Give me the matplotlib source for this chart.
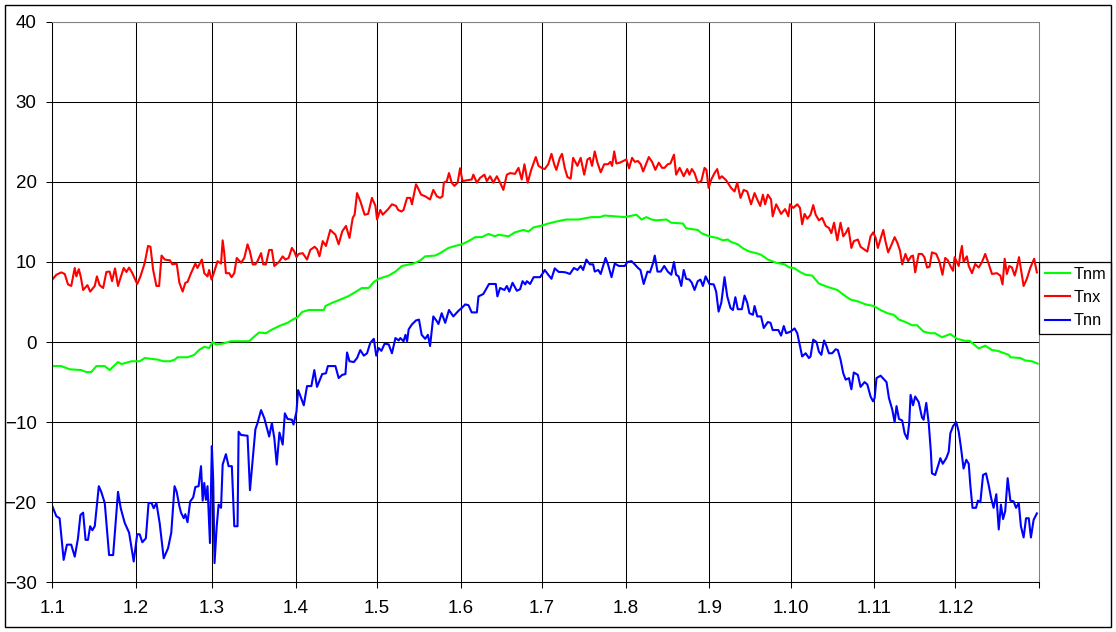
import matplotlib
matplotlib.use("Agg")
from matplotlib import pyplot as plt
from matplotlib.patches import Rectangle

plt.rcParams['font.family'] = ['Liberation Sans', 'DejaVu Sans']

# x positions are days since 1 January
tnx_day = [0, 1.5, 3.3, 4.6, 5.8, 7, 8.3, 8.9, 9.8, 10.5, 11.4, 13, 14, 15.7, 16.5, 17.5, 18.8, 20, 21.2, 22.1,
           23.2, 24.3, 25.2, 26.4, 27.4, 28.4, 29.6, 31.4, 32.6, 34.2, 35.4, 36.3, 37.3, 38.5, 39.5, 40.4, 41.6,
           43.5, 44.4, 46, 47, 48.2, 49.2, 50, 51.3, 52.9, 53.7, 55.3, 56.2, 57.4, 58, 58.9, 59.9, 61.1, 62.4,
           63, 63.6, 64.2, 65.4, 66.3, 67.3, 68.2, 69.8, 71, 72.2, 73.1, 74.1, 75.1, 75.9, 77.2, 78, 79, 80.2,
           81.2, 82.1, 83.7, 85.2, 86.2, 87.4, 88.6, 89.5, 90.3, 91.1, 92.6, 94.2, 95.4, 97, 97.9, 98.8, 100,
           101.2, 102.8, 104.7, 105.9, 107.2, 108.6, 109.9, 111.1, 111.8, 112.7, 113.9, 115.5, 116.8, 118.2,
           119.5, 120.1, 121.3, 122.2, 124.2, 125.6, 127.1, 127.9, 129.1, 129.9, 131.2, 132.4, 133, 134.5,
           135.2, 136.4, 137.9, 139.7, 140.9, 142.2, 143.4, 144.3, 144.8, 145.9, 146.7, 147.7, 148.7, 149.9,
           150.8, 151.7, 153.3, 155.1, 155.7, 157, 158.2, 159.8, 160.7, 161.9, 163.1, 164.4, 165.6, 166.8,
           168.1, 169.3, 171.1, 172.4, 173.6, 174.6, 175.8, 177.1, 178.8, 179.8, 181.2, 182.1, 183.4, 184.6,
           185.6, 186.4, 187.7, 188.5, 189.5, 190.5, 191.7, 192.6, 194.2, 195.4, 196.7, 197.9, 198.8, 199.6,
           200.6, 201.6, 202.8, 204.1, 205.5, 206.4, 207, 207.8, 208.6, 209.9, 211.1, 212.3, 213.3, 214.4,
           215.4, 216.6, 217.6, 218.5, 219.3, 220.6, 221.8, 223, 224.3, 225.5, 226.4, 227.6, 228.6, 229.9,
           230.7, 232, 233.5, 234.8, 235.6, 236.5, 237.5, 238.7, 240, 241.2, 241.9, 242.7, 243.7, 244.9,
           245.9, 246.7, 247.6, 249.2, 251, 252.3, 253.3, 254.5, 255.7, 257, 258.4, 259.7, 260.7, 261.8,
           262.8, 263.6, 264.6, 265.8, 266.4, 267.7, 269.5, 271, 272.2, 272.8, 274, 275.5, 276.5, 277.3,
           278.2, 279.2, 280.4, 281.4, 282.3, 283.5, 284.7, 286, 287.2, 288.1, 289.1, 290.3, 291.5, 292.5,
           293.4, 294.4, 295.5, 296.4, 297.9, 298.9, 300.1, 301.4, 302.6, 303.6, 304.5, 305.3, 306.3, 307.3,
           308.1, 309.1, 310.4, 311.5, 312.5, 313.5, 314.3, 315.5, 316.5, 317.6, 318.3, 319.1, 320.4, 321.6,
           322.5, 323.5, 324.4, 325.3, 326.9, 328.1, 329.2, 330.2, 331.2, 332.1, 333.1, 333.7, 335.2, 335.8,
           336.4, 337, 338.2, 338.9, 340.1, 341.3, 342.6, 343.8, 345, 346.3, 347.5, 349.3, 350.6, 351.4,
           352.2, 353, 353.9, 354.9, 355.9, 356.7, 357.5, 358.2, 359.2, 360.4, 361.7, 363.1, 364.1]
tnx = [7.8, 8.4, 8.7, 8.5, 7.2, 7.0, 9.25, 8.2, 9.1, 8.2, 6.5, 7.1, 6.3, 7.0, 8.2, 7.1, 6.75, 8.75, 8.8, 7.6,
       9.2, 7.0, 8.0, 9.25, 8.75, 9.3, 8.6, 7.25, 8.2, 9.9, 12.0, 11.9, 9.0, 7.0, 7.0, 10.8, 10.3,
       10.2, 9.7, 9.8, 7.4, 6.3, 7.4, 7.5, 8.6, 9.8, 9.25, 10.3, 8.6, 8.2, 9.0, 7.8, 8.8, 10.1, 9.8,
       12.7, 11.1, 8.6, 8.6, 8.1, 8.6, 10.5, 9.9, 10.5, 12.2, 11.3, 9.7, 9.7, 10.1, 11.1, 9.7, 9.7, 11.5,
       11.5, 9.5, 9.95, 10.7, 10.3, 10.5, 11.75, 11.3, 10.6, 11.0, 11.1, 10.3, 11.5, 11.9, 11.6, 10.7, 12.6,
       12.0, 14.0, 13.4, 12.2, 13.8, 14.5, 13.0, 15.5, 15.9, 18.6, 17.6, 15.9, 16.0, 18.0,
       17.0, 15.3, 16.5, 15.9, 16.6, 17.2, 17.0, 16.5, 16.3, 16.5, 18.0, 18.0, 17.2, 19.7,
       19.25, 18.4, 18.2, 17.8, 19.0, 18.2, 18.0, 18.2, 19.9, 20.1, 21.1, 19.9, 19.5, 19.9,
       21.7, 20.1, 20.2, 20.3, 20.9, 19.9, 20.5, 20.9, 20.1, 20.7, 19.9, 20.7, 19.9, 19.0,
       20.9, 21.1, 21.0, 21.75, 20.3, 22.2, 19.9, 21.5, 23.1, 22.0, 21.7, 21.6, 22.2, 23.5,
       22.2, 21.5, 23.0, 23.5, 21.75, 20.6, 20.4, 23.0, 22.0, 23.0, 20.9, 22.8, 23.0, 22.0,
       23.8, 22.4, 21.2, 22.2, 22.2, 22.5, 22.0, 23.8, 22.3, 22.4, 22.6, 22.8, 21.7, 23.0,
       22.5, 22.6, 22.2, 21.3, 22.0, 23.1, 22.5, 21.5, 22.4, 21.75, 21.75, 22.2, 22.3, 23.4,
       20.9, 21.75, 20.7, 21.6, 20.9, 21.6, 21.1, 19.9, 20.1, 21.75, 21.5, 19.25, 20.3, 21.1,
       21.6, 20.4, 20.7, 20.2, 19.25, 18.8, 19.9, 18.0, 19.0, 18.8, 17.2, 18.6, 17.8, 17.0,
       18.4, 17.2, 18.4, 17.8, 15.7, 17.2, 16.0, 16.6, 15.7, 17.2, 16.75, 17.2, 16.75, 14.7,
       16.0, 15.4, 15.9, 17.1, 15.9, 15.2, 15.5, 14.5, 14.25, 13.6, 14.9, 12.7, 14.9, 13.2,
       13.6, 14.25, 11.75, 12.6, 12.8, 11.9, 11.6, 11.3, 13.2, 13.7, 13.0, 11.75, 12.9, 14.0,
       12.6, 11.2, 12.2, 13.1, 12.4, 11.4, 9.7, 11.0, 10.1, 10.7, 10.8, 8.7, 11.0, 11.0,
       10.6, 9.3, 9.4, 11.2, 11.0, 10.0, 8.4, 10.5, 10.2, 9.5, 8.9, 10.6, 9.5, 11.0,
       12.0, 10.0, 10.7, 9.5, 8.6, 9.75, 9.3, 10.0, 11.0, 9.75, 8.5, 8.6, 8.3, 7.2,
       10.4, 8.5, 9.5, 9.3, 8.3, 9.3, 10.6, 9.1, 7.0, 7.9, 9.3, 10.4, 8.7]

tnm_day = [0, 3.3, 6.4, 10.7, 12.6, 14.4, 16.3, 19.4, 21.2, 24.3, 25.6, 29.3, 32.3, 34.2, 39.1, 41, 43.5, 45.3,
           46.3, 50, 52.5, 54.4, 56.2, 58, 59.3, 60.5, 63, 66, 72.8, 74.7, 76.5, 79, 80.9, 83.9, 87, 88.9,
           90.7, 92.4, 94.8, 100.4, 101, 103.5, 107.2, 109.6, 112.1, 114.5, 117, 118.9, 120.7, 124.4, 126.9,
           129.3, 133.6, 136.1, 137.9, 141.6, 143.4, 146.5, 149, 151.4, 153.9, 156.4, 158.8, 161.3, 163.7,
           165, 168.7, 171.1, 174.2, 176.1, 177.9, 181.6, 183.4, 187.1, 190.1, 194.5, 199.4, 202.5, 204.3,
           211.7, 216, 217.9, 219.7, 221.6, 223.4, 227.1, 228.9, 233.2, 234.4, 238.7, 240, 243, 245.9, 248,
           249.8, 251, 253.5, 255.4, 257.8, 260.3, 262.1, 264.6, 267.7, 270.8, 272.6, 274.3, 276.5, 278.6,
           281, 283.5, 286.6, 290.3, 293.4, 295.2, 297.7, 300.8, 303.8, 306.3, 308.8, 311.2, 313.1, 315.5,
           318, 319.8, 322.2, 324.7, 326.5, 329, 332.1, 334.6, 337.6, 339.2, 342.6, 345, 347.5, 349.6, 353.7,
           354.3, 358, 359.8, 362.3, 364.4]
tnm = [-3.0, -3.0, -3.4, -3.5, -3.75, -3.75, -3.0, -3.0, -3.5, -2.5, -2.75, -2.4, -2.4, -2.0, -2.2, -2.4, -2.4, -2.2,
       -1.9, -1.9, -1.6, -0.95, -0.6, -0.75, 0.0, -0.3, -0.2, 0.1, 0.1, 0.7, 1.2, 1.1, 1.5, 2.0, 2.4, 2.8,
       3.1, 3.75, 4.0, 4.0, 4.5, 4.9, 5.4, 5.75, 6.25, 6.75, 6.75, 7.5, 7.9, 8.3, 8.8,
       9.5, 9.8, 10.2, 10.7, 10.8, 11.1, 11.75, 12.0, 12.2, 12.6, 13.1, 13.1, 13.5, 13.2,
       13.4, 13.2, 13.7, 14.0, 13.8, 14.3, 14.6, 14.8, 15.1, 15.3, 15.3, 15.6, 15.6, 15.8,
       15.6, 15.9, 15.3, 15.6, 15.3, 15.2, 15.3, 14.9, 14.8, 14.2, 14.0, 13.6, 13.2, 13.0, 12.7,
       12.8, 12.5, 12.2, 11.7, 11.3, 11.1, 10.9, 10.3, 9.9, 9.7, 9.3, 9.25, 8.75, 8.4,
       8.3, 7.3, 6.9, 6.5, 5.7, 5.3, 5.1, 4.7, 4.5, 4.0, 3.6, 3.4, 2.8, 2.5,
       2.1, 2.1, 1.3, 1.1, 1.1, 0.6, 1.0, 0.4, 0.15, 0.15, -0.8, -0.45, -1.0, -1.1, -1.6,
       -1.9, -2.0, -2.3, -2.4, -2.7]

tnn_day = [0, 1.5, 2.7, 4.2, 5.4, 7, 8.3, 9.5, 10.4, 11.4, 12.3, 13.2, 14, 14.8, 15.7, 17.2, 18.1, 19.4, 21, 22.5,
           24.3, 25.3, 26.8, 28.4, 30.1, 31.4, 32.3, 33.3, 34.6, 35.6, 36.7, 37.5, 38.5, 39.7, 41.2, 42.8, 44,
           45.2, 46, 47, 47.6, 48.6, 49.2, 50, 51, 52.1, 52.9, 54.1, 55, 55.6, 56.2, 56.8, 57.4, 58.3, 59,
           59.5, 60, 60.8, 61.5, 62.4, 63, 64.2, 65.2, 66.4, 67.3, 68.5, 68.9, 69.8, 72.2, 73.1, 74.1, 75.1,
           75.9, 77.2, 78.4, 80.2, 81.2, 82.1, 83, 84, 85.2, 86, 87, 88.6, 89.2, 90.3, 90.9, 91.7, 93, 94.2,
           95.8, 96.9, 97.9, 99.8, 101.2, 101.9, 104.7, 105.9, 107.2, 108.4, 109, 109.9, 111.5, 112.7, 113.9,
           115.2, 116.4, 117.6, 118.9, 119.8, 120.7, 121.7, 122.9, 124.4, 125.6, 126.9, 128.1, 128.7, 129.9,
           130.6, 131.2, 131.8, 133, 134.5, 135.6, 136.6, 137.9, 138.9, 139.7, 140.9, 142.2, 142.8, 144,
           145.3, 146.7, 148.3, 150.2, 151.4, 152.7, 153.9, 155.1, 157, 157.6, 159.4, 161.5, 164, 164.6,
           165.6, 167.2, 168.1, 169, 170.2, 171.8, 173, 173.9, 174.9, 175.5, 176.7, 178, 180.4, 181.6, 182.1,
           183.4, 184.6, 185.8, 187.3, 188.5, 189.8, 191.4, 192.9, 194.2, 195.4, 196.3, 197.5, 198.8, 200,
           200.6, 201.9, 202.8, 204.6, 205.5, 206.8, 208, 209.5, 211.7, 212.7, 214.2, 215.4, 216.6, 217.5,
           218.7, 220.1, 221, 222.2, 222.8, 223.8, 225, 226.3, 227.6, 228.9, 229.9, 230.7, 231.6, 232.6,
           233.5, 234.4, 235.6, 236.5, 237.5, 238.7, 239.7, 240.6, 241.6, 243, 244.6, 245.5, 246.4, 247.4,
           248.6, 249.6, 250.8, 251.7, 252.6, 253.5, 255, 256, 257, 257.8, 259.1, 259.7, 260.7, 262.1,
           263.1, 264.6, 265.6, 266.4, 268.5, 269.5, 270.5, 271.4, 273, 274.5, 275.5, 276.5, 277.3, 278.6,
           279.8, 280.4, 281.4, 282.6, 283.5, 284.4, 285.4, 286.3, 287.2, 288.4, 289.7, 290.5, 291.5, 292.5,
           293.4, 294.6, 295.5, 296.4, 297.9, 298.9, 300.4, 301.4, 302.6, 303.5, 304.1, 304.8, 306.3, 308.5,
           309.4, 310.6, 311.5, 312.2, 313.1, 314.3, 315.2, 316.2, 316.9, 317.4, 318.3, 319.1, 320.4, 321.6,
           322.2, 323.2, 324.1, 324.9, 325.3, 326.5, 327.8, 328.4, 329.3, 330.6, 331.5, 332.1, 333.1, 334.3,
           335.2, 336, 337, 338, 338.9, 339.5, 340.3, 341.6, 342.3, 343.2, 344.2, 345.3, 346.3, 347.2, 348.1,
           349.1, 350, 350.8, 351.6, 352.4, 353.3, 354.3, 355.5, 356.4, 357.4, 358.2, 359.2, 360.1, 361.1,
           361.9, 362.9, 364.1]
tnn = [-20.5, -21.75, -22.0, -27.2, -25.3, -25.3, -26.8, -24.5, -21.6, -21.3, -24.7, -24.7, -23.0, -23.5, -23.0,
       -18.0, -18.7, -20.1, -26.6, -26.6, -18.7, -20.75, -22.6, -23.8, -27.4, -24.0, -24.0, -25.0, -24.5, -20.1,
       -20.1, -20.75, -20.1, -22.6, -27.0, -25.75, -23.8, -18.0, -18.7, -20.5, -21.3, -22.0, -21.5, -22.5,
       -19.9, -19.4, -18.1, -18.0, -15.5, -19.8, -17.6, -19.7, -18.0, -25.1, -13.0, -17.2, -27.6, -23.0,
       -20.3, -20.7, -15.3, -14.0, -15.5, -15.5, -23.0, -23.0, -11.2, -11.6, -11.7, -18.5, -14.7, -10.9,
       -10.1, -8.5, -9.5, -11.8, -10.1, -12.0, -15.3, -11.3, -12.8, -8.9, -9.6, -9.7, -10.3, -8.7, -6.0,
       -6.7, -7.9, -5.5, -5.5, -3.5, -5.6, -4.0, -3.9, -3.0, -3.0, -4.5, -4.1, -4.0, -1.3, -2.4, -2.5,
       -2.0, -1.0, -1.7, -1.4, -0.1, 0.4, -1.7, -0.75, -1.1, -0.2, -0.3, -1.4, 0.5, 0.2, 0.5, 0.1,
       0.9, 0.1, 1.6, 2.2, 2.7, 2.8, 0.9, 0.4, 0.9, -0.5, 3.2, 2.6, 2.25, 3.6,
       2.4, 4.0, 3.2, 3.9, 4.25, 4.7, 4.6, 3.7, 3.7, 5.7, 6.0, 7.25, 7.25, 5.7,
       6.75, 6.5, 7.0, 6.3, 7.4, 6.4, 6.6, 7.6, 7.2, 7.6, 7.25, 8.1, 8.1, 8.7, 9.0,
       8.4, 7.9, 9.2, 8.75, 8.75, 8.7, 8.5, 9.25, 9.0, 9.5, 9.0, 10.3, 9.7, 9.7,
       8.8, 9.0, 8.5, 10.5, 9.7, 8.1, 9.8, 9.5, 9.5, 10.0, 10.1, 9.7, 9.25, 9.0,
       7.25, 8.8, 8.7, 9.9, 10.8, 8.8, 8.8, 9.5, 8.8, 8.4, 10.0, 8.4, 8.2, 7.0,
       9.0, 7.9, 7.8, 7.4, 6.5, 7.6, 7.8, 7.0, 8.2, 7.25, 7.2, 6.3, 3.8, 4.9,
       8.1, 5.7, 4.25, 4.0, 5.6, 4.1, 4.1, 5.8, 4.9, 3.6, 3.4, 4.5, 3.2, 3.2,
       1.75, 2.5, 2.4, 1.5, 1.5, 0.8, 2.0, 1.1, 1.3, 1.7, 1.1, -0.5, -1.8, -1.4,
       -2.0, -1.8, 0.3, 0.0, -1.2, -1.6, 0.2, -0.5, -1.4, -1.4, -0.9, -1.0, -2.2, -3.9,
       -4.7, -4.5, -5.9, -3.8, -4.1, -5.6, -5.0, -5.3, -6.8, -7.4, -7.0, -4.5, -4.2, -5.0,
       -7.0, -8.4, -10.0, -8.0, -9.6, -9.8, -11.4, -12.1, -10.1, -6.6, -7.9, -6.8, -7.5, -9.4,
       -9.7, -7.6, -10.1, -13.7, -16.4, -16.6, -15.2, -14.5, -15.2, -14.5, -13.7, -11.4, -10.5, -10.0,
       -11.2, -13.1, -15.8, -14.7, -15.2, -17.9, -20.7, -20.7, -19.8, -20.0, -16.6, -16.4, -17.9, -19.5, -20.7,
       -19.0, -23.4, -20.3, -22.1, -21.1, -17.0, -19.8, -19.9, -20.7, -20.1, -23.0, -24.4, -22.0, -22.0,
       -24.4, -22.2, -21.4]

month_start = [0, 31, 59, 90, 120, 151, 181, 212, 243, 273, 304, 334]
month_labels = ['1.1', '1.2', '1.3', '1.4', '1.5', '1.6', '1.7', '1.8', '1.9', '1.10', '1.11', '1.12']

W, H = 1116, 632
fig = plt.figure(figsize=(W / 100, H / 100), dpi=100)
ax = fig.add_axes([52.3 / W, 1 - 582.3 / H, (1039.3 - 52.3) / W, (582.3 - 21.7) / H])

ax.plot(tnm_day, tnm, color='#00FF00', lw=1.5, label='Tnm')
ax.plot(tnx_day, tnx, color='#FF0000', lw=1.5, label='Tnx')
ax.plot(tnn_day, tnn, color='#0000FF', lw=1.5, label='Tnn')

ax.set_xlim(0, 365)
ax.set_ylim(-30, 40)
ax.set_xticks(month_start)
ax.set_xticklabels(month_labels)
ax.set_xticks([365], minor=True)
ax.set_yticks(range(-30, 41, 10))

ax.set_axisbelow(True)
ax.grid(True, which='major', color='black', lw=0.75)
ax.tick_params(which='both', direction='out', length=4.3, width=0.75, color='black', labelsize=13.5)
ax.tick_params(axis='x', pad=8.5)
ax.tick_params(axis='y', pad=7)

for side in ['left', 'bottom']:
    ax.spines[side].set_color('black')
    ax.spines[side].set_linewidth(0.75)
for side in ['top', 'right']:
    ax.spines[side].set_color('#808080')
    ax.spines[side].set_linewidth(0.75)

leg = ax.legend(loc='upper left', bbox_to_anchor=(1039.3 / W, 1 - 261.7 / H), bbox_transform=fig.transFigure,
                borderaxespad=0, fancybox=False, edgecolor='black', framealpha=1, fontsize=11.8,
                handlelength=1.55, handletextpad=0.2, labelspacing=0.5, borderpad=0.32)
leg.get_frame().set_linewidth(0.9)

# outer chart border
fig.patches.append(Rectangle((5 / W, 1 - 627 / H), 1105.7 / W, 622 / H, transform=fig.transFigure,
                             fill=False, edgecolor='black', lw=1.0))

fig.savefig('out.png', dpi=100)
